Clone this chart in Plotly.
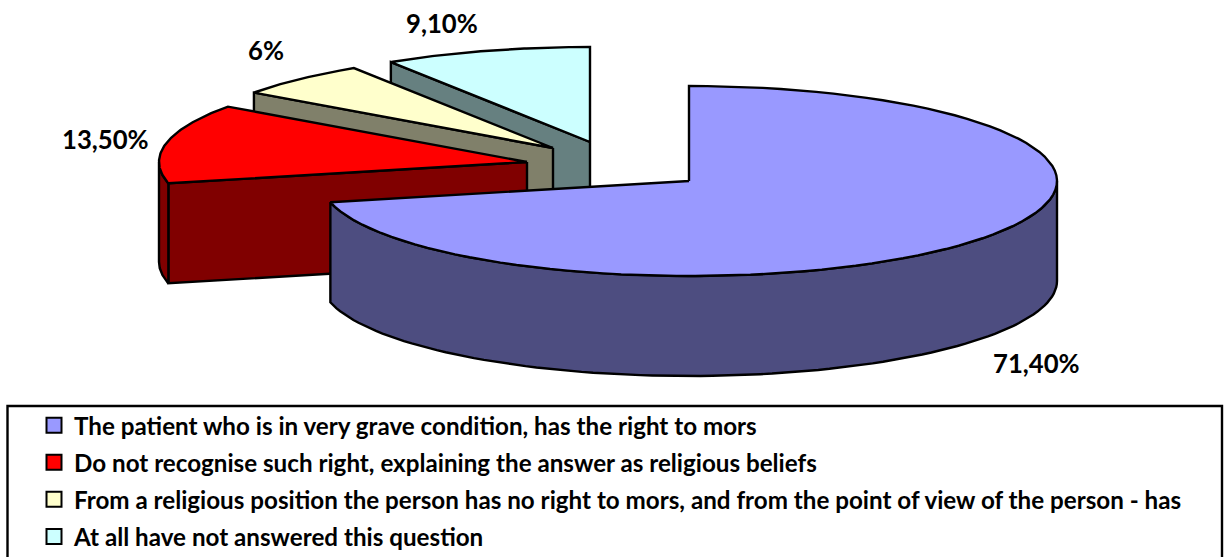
import numpy as np
import plotly.graph_objects as go

categories = [
    "The patient who is in very grave condition, has the right to mors",
    "Do not recognise such right, explaining the answer as religious beliefs",
    "From a religious position the person has no right to mors, and from the point of view of the person - has",
    "At all have not answered this question",
]
values = [71.4, 13.5, 6.0, 9.1]
value_labels = ["71,40%", "13,50%", "6%", "9,10%"]
top_colors = ["#9999FF", "#FF0000", "#FFFFCC", "#CCFFFF"]
side_colors = ["#4D4D80", "#800000", "#80806A", "#668080"]

# pie geometry (pixels on the page)
RX, RY, DEPTH = 368, 95, 100
apexes = [(689, 181), (527, 162), (553, 148), (590, 142)]
label_pos = [(1036, 363), (105, 139), (266, 50), (442, 23)]
LINE = dict(color="black", width=2.4)


def rim(cx, cy, a0, a1, n=90):
    t = np.radians(np.linspace(a0, a1, n))
    return cx + RX * np.sin(t), cy - RY * np.cos(t)


def poly(fig, xs, ys, color):
    fig.add_trace(go.Scatter(x=list(xs) + [xs[0]], y=list(ys) + [ys[0]], mode="lines", fill="toself",
                             fillcolor=color, line=LINE, showlegend=False, hoverinfo="skip"))


fig = go.Figure()
edges = np.cumsum([0] + values) * 3.6
for i in [3, 2, 1, 0]:
    a0, a1 = edges[i], edges[i + 1]
    cx, cy = apexes[i]
    # radial cut face at the start of the slice, only for the slices in the rear
    if i:
        ex, ey = rim(cx, cy, a0, a0, 1)
        poly(fig, [cx, ex[0], ex[0], cx], [cy, ey[0], ey[0] + DEPTH, cy + DEPTH], side_colors[i])
    # visible part of the outer wall (front half of the ellipse)
    w0, w1 = max(a0, 90), min(a1, 270)
    if w1 > w0:
        wx, wy = rim(cx, cy, w0, w1)
        poly(fig, np.r_[wx, wx[::-1]], np.r_[wy, wy[::-1] + DEPTH], side_colors[i])
    # top face
    tx, ty = rim(cx, cy, a0, a1)
    poly(fig, np.r_[cx, tx], np.r_[cy, ty], top_colors[i])

for i, name in enumerate(categories):
    fig.add_trace(go.Scatter(x=[None], y=[None], mode="markers", name=name, legendgroup=name,
                             marker=dict(symbol="square", size=15, color=top_colors[i],
                                         line=dict(color="black", width=2))))

for txt, (x, y) in zip(value_labels, label_pos):
    fig.add_annotation(x=x, y=y, text=f"<b>{txt}</b>", showarrow=False,
                       font=dict(family="Lato", size=25.7, color="black"))

fig.add_shape(type="rect", x0=7.5, x1=1222, y0=406, y1=575, line=dict(color="black", width=2.4))

fig.update_layout(
    width=1227, height=557, margin=dict(l=0, r=0, t=0, b=0, autoexpand=False),
    paper_bgcolor="white", plot_bgcolor="white",
    xaxis=dict(range=[0, 1227], visible=False, fixedrange=True),
    yaxis=dict(range=[557, 0], visible=False, fixedrange=True),
    legend=dict(x=34 / 1227, y=1 - 403 / 557, xanchor="left", yanchor="top", tracegroupgap=2.6,
                bgcolor="rgba(0,0,0,0)", font=dict(family="Lato", size=24.2, color="black", weight="bold"),
                traceorder="grouped"),
)
fig.write_html("out.html", post_script="document.body.style.margin='0';",
               config={"displayModeBar": False})
